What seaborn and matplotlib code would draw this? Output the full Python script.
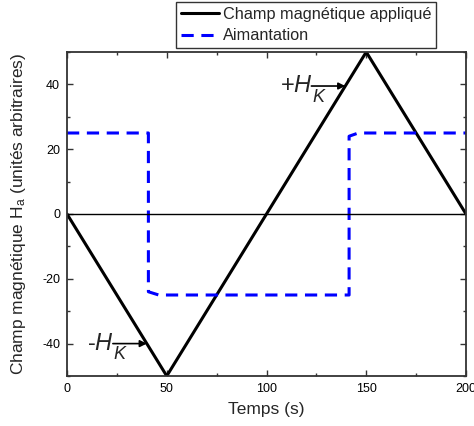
import numpy as np
import pandas as pd
import matplotlib
matplotlib.use("Agg")
import matplotlib.pyplot as plt
from matplotlib.ticker import MultipleLocator
import seaborn as sns

sns.set_theme(style="ticks")
plt.rcParams["font.family"] = ["Liberation Sans", "DejaVu Sans"]
plt.rcParams["mathtext.fontset"] = "custom"
plt.rcParams["mathtext.rm"] = "Liberation Sans"
plt.rcParams["mathtext.it"] = "Liberation Sans:italic"
plt.rcParams["axes.unicode_minus"] = False

# Applied field: triangular sweep
field_t = [0, 50, 150, 200]
field_v = [0, -50, 50, 0]

# Magnetization: switching at the anisotropy field
mag_t = [0, 40.8, 40.8, 46, 141.4, 141.4, 146, 200]
mag_v = [25, 25, -24, -25, -25, 24, 25, 25]

# Zero reference line
zero_t = [0, 200]
zero_v = [0, 0]

field_df = pd.DataFrame({"t": field_t, "v": field_v})
mag_df = pd.DataFrame({"t": mag_t, "v": mag_v})
zero_df = pd.DataFrame({"t": zero_t, "v": zero_v})

fig = plt.figure(figsize=(4.74, 4.26), dpi=100)
ax = fig.add_axes([67 / 474, 50 / 426, 399 / 474, 324 / 426])

sns.lineplot(data=field_df, x="t", y="v", ax=ax, color="black", lw=2.2,
             sort=False, estimator=None, label="Champ magnétique appliqué")
sns.lineplot(data=mag_df, x="t", y="v", ax=ax, color="#0000ff", lw=2.2,
             sort=False, estimator=None, dashes=False, linestyle=(0, (4, 2.5)),
             label="Aimantation")
sns.lineplot(data=zero_df, x="t", y="v", ax=ax, color="black", lw=1.0,
             estimator=None, legend=False)

ax.set_xlim(0, 200)
ax.set_ylim(-50, 50)
ax.xaxis.set_major_locator(MultipleLocator(50))
ax.xaxis.set_minor_locator(MultipleLocator(25))
ax.yaxis.set_major_locator(MultipleLocator(20))
ax.yaxis.set_minor_locator(MultipleLocator(10))
ax.tick_params(which="both", direction="in", top=True, right=True,
               labelsize=9, colors="#333333", labelcolor="black", width=1)
ax.tick_params(which="major", length=4, pad=5)
ax.tick_params(which="minor", length=2.5)
for s in ax.spines.values():
    s.set_linewidth(1.3)
    s.set_color("#333333")

ax.set_xlabel("Temps (s)", fontsize=12.5, labelpad=5)
ax.set_ylabel(r"Champ magnétique H$_\mathrm{a}$ (unités arbitraires)",
              fontsize=12.5, labelpad=10)


def field_marker(sign, t_text, t_arrow, y):
    """Label +/-H_K with an arrow pointing to the field ramp."""
    ax.text(t_text, y, sign + "$H$", fontsize=17, ha="right", va="center")
    ax.annotate("$K$", xy=(t_text, y), xytext=(-0.5, -8),
                textcoords="offset points", fontsize=13, ha="left",
                va="center")
    ax.annotate("", xy=(t_arrow, y), xytext=(t_text - 0.5, y),
                arrowprops=dict(arrowstyle="-|>", color="black", lw=1.2,
                                shrinkA=0, shrinkB=0, mutation_scale=10))


# Anisotropy field markers
field_marker("+", 123, 139.5, 39.5)
field_marker("-", 23.5, 40, -40)

leg = ax.legend(loc="upper right", bbox_to_anchor=(436 / 474, 1 - 2 / 426),
                bbox_transform=fig.transFigure, fontsize=11.7, frameon=True,
                fancybox=False, borderpad=0.3, labelspacing=0.4,
                handlelength=2.3, handletextpad=0.25, borderaxespad=0)
leg.get_frame().set_edgecolor("black")
leg.get_frame().set_linewidth(1.0)

fig.savefig("out.png", dpi=100)
